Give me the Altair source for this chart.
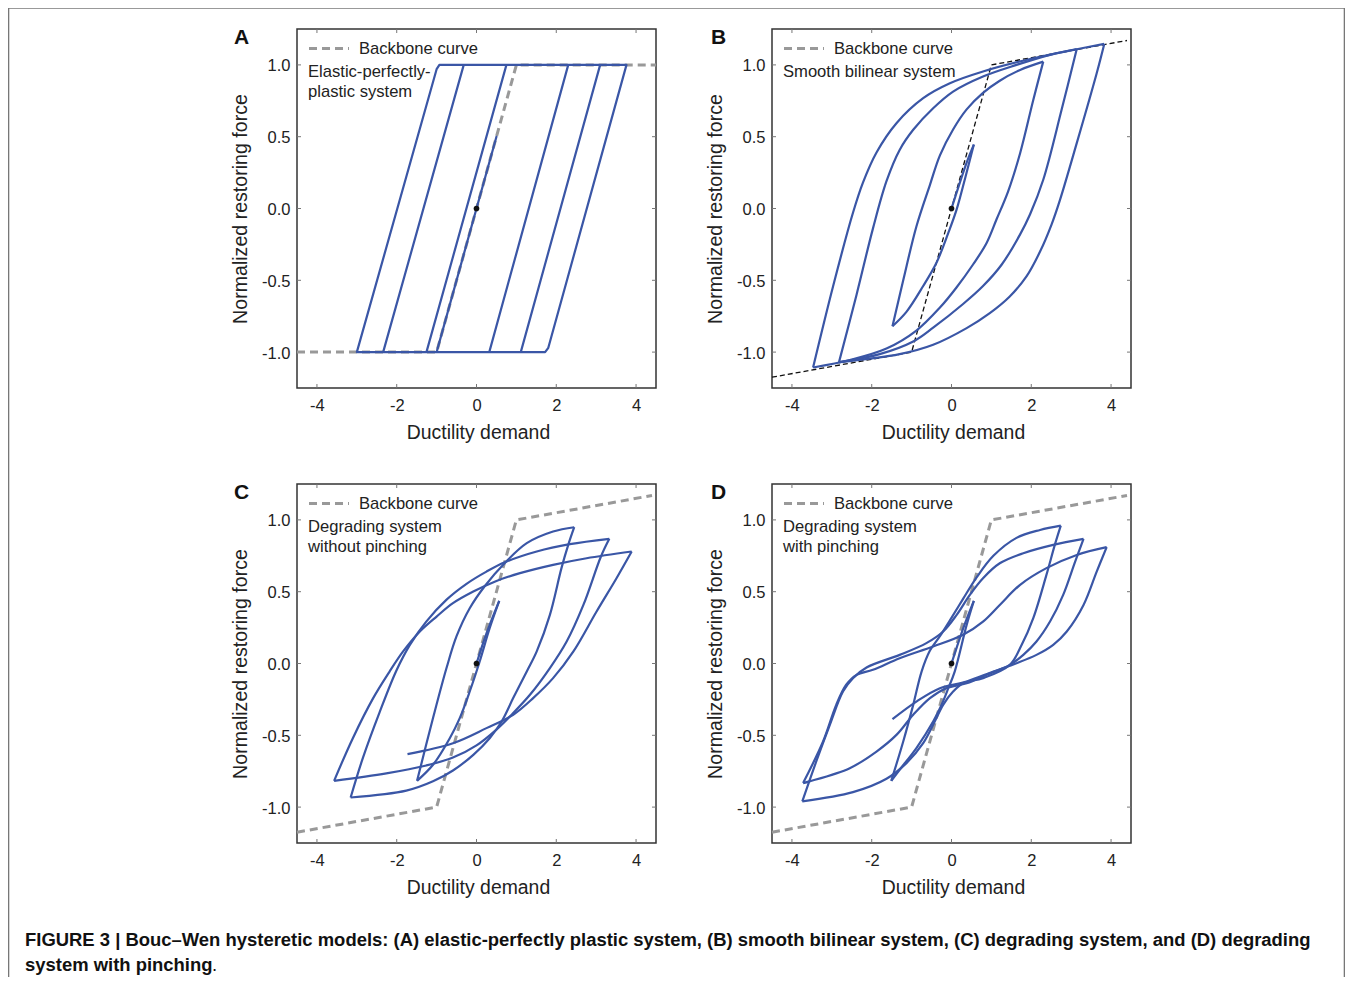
import altair as alt

FONT = "Liberation Sans"
BLUE = "#3a56a6"
GREY = "#999999"
INK = "#222222"

X_TICKS = [-4, -2, 0, 2, 4]
Y_TICKS = [-1.0, -0.5, 0.0, 0.5, 1.0]

A_BACKBONE_X = [-4.5, -1, 1, 4.5]
A_BACKBONE_Y = [-1, -1, 1, 1]
BILINEAR_X = [-4.5, -1, 1, 4.4]
BILINEAR_Y = [-1.175, -1, 1, 1.17]

# Panel A: elastic-perfectly plastic
A_X = [[0, 0.5, -1.0, -1.255, 0.75, 2.30, 0.32, -3.0, -1.0, -0.93, 3.76, 1.80, 1.72, -2.34, -0.32, 3.10, 1.11]]
A_Y = [[0, 0.5, -1.0, -1.0, 1.0, 1.0, -1.0, -1.0, 0.97, 1.0, 1.0, -0.97, -1.0, -1.0, 1.0, 1.0, -1.0]]

# Panel B: smooth bilinear
B_X = [
    [0, 0.38, 0.56],
    [0.56, 0.35, 0.125, -0.08, -0.38, -0.71, -1.13, -1.48],
    [-1.48, -1.21, -0.88, -0.54, -0.29, 0.04, 0.38, 0.79, 1.21, 1.72, 2.30],
    [2.30, 2.05, 1.72, 1.42, 1.13, 0.88, 0.54, 0.125, -0.29, -0.88, -1.63, -2.55, -3.47],
    [-3.47, -2.97, -2.47, -2.22, -1.88, -1.38, -0.71, -0.04, 0.79, 2.05, 3.14, 3.83],
    [3.83, 3.64, 3.14, 2.72, 2.51, 2.22, 1.88, 1.46, 0.96, 0.38, -0.46, -1.30, -2.82],
    [-2.82, -2.38, -1.97, -1.63, -1.30, -0.96, -0.46, 0.04, 0.79, 1.63, 2.47, 3.14],
    [3.14, 2.76, 2.30, 1.97, 1.72, 1.26, 0.79, 0.29, -0.46, -0.96, -1.80, -2.82],
]
B_Y = [
    [0, 0.32, 0.445],
    [0.445, 0.22, -0.01, -0.17, -0.38, -0.54, -0.72, -0.82],
    [-0.82, -0.50, -0.125, 0.165, 0.37, 0.55, 0.69, 0.805, 0.89, 0.965, 1.023],
    [1.023, 0.756, 0.385, 0.12, -0.075, -0.24, -0.39, -0.55, -0.69, -0.85, -0.975, -1.055, -1.107],
    [-1.107, -0.543, -0.03, 0.18, 0.39, 0.594, 0.768, 0.872, 0.954, 1.046, 1.109, 1.146],
    [1.146, 0.942, 0.455, 0.06, -0.11, -0.30, -0.473, -0.613, -0.729, -0.833, -0.949, -1.014, -1.07],
    [-1.07, -0.60, -0.14, 0.19, 0.408, 0.548, 0.698, 0.814, 0.919, 1.0, 1.07, 1.111],
    [1.111, 0.687, 0.20, -0.04, -0.18, -0.39, -0.54, -0.665, -0.83, -0.926, -1.014, -1.07],
]

# Panel C: degrading without pinching
C_X = [
    [0, 0.25, 0.57],
    [0.57, 0.33, 0.08, -0.17, -0.42, -0.67, -1.09, -1.49],
    [-1.49, -1.09, -0.75, -0.5, -0.17, 0.21, 0.71, 1.26, 1.92, 2.45],
    [2.45, 2.30, 2.13, 1.84, 1.51, 1.26, 0.92, 0.63, 0.33, -0.08, -0.59, -1.09, -1.76, -3.155],
    [-3.155, -2.85, -2.43, -2.01, -1.67, -1.26, -0.75, -0.25, 0.25, 0.71, 1.51, 2.34, 3.33],
    [3.33, 3.12, 2.68, 2.26, 1.84, 1.34, 0.92, 0.5, 0, -0.59, -1.26, -2.26, -3.57],
    [-3.57, -3.10, -2.59, -2.18, -1.84, -1.42, -1.0, -0.59, -0.08, 0.5, 1.09, 1.92, 2.76, 3.89],
    [3.89, 3.51, 3.01, 2.43, 1.92, 1.42, 0.92, 0.25, -0.59, -1.73],
]
C_Y = [
    [0, 0.21, 0.436],
    [0.436, 0.246, 0.014, -0.195, -0.38, -0.52, -0.705, -0.817],
    [-0.817, -0.38, -0.03, 0.19, 0.385, 0.54, 0.70, 0.838, 0.919, 0.949],
    [0.949, 0.826, 0.664, 0.339, 0.084, -0.056, -0.241, -0.404, -0.52, -0.636, -0.745, -0.82, -0.885, -0.933],
    [-0.933, -0.659, -0.34, -0.05, 0.13, 0.292, 0.445, 0.555, 0.64, 0.705, 0.78, 0.831, 0.868],
    [0.868, 0.745, 0.408, 0.153, -0.032, -0.218, -0.345, -0.46, -0.57, -0.655, -0.71, -0.765, -0.817],
    [-0.817, -0.52, -0.241, -0.056, 0.084, 0.223, 0.327, 0.42, 0.501, 0.575, 0.629, 0.687, 0.733, 0.78],
    [0.78, 0.594, 0.362, 0.084, -0.102, -0.241, -0.357, -0.45, -0.555, -0.631],
]

# Panel D: degrading with pinching
D_X = [
    [0, 0.3, 0.56],
    [0.56, 0.38, 0.08, -0.08, -0.25, -0.46, -0.88, -1.30, -1.51],
    [-1.51, -1.21, -0.96, -0.75, -0.54, -0.29, -0.04, 0.29, 0.63, 1.05, 1.63, 2.22, 2.74],
    [2.74, 2.59, 2.38, 2.05, 1.76, 1.46, 0.79, 0.29, 0.04, -0.21, -0.42, -0.71, -1.13, -1.63, -2.47, -3.74],
    [-3.74, -3.39, -3.05, -2.72, -2.47, -2.13, -1.30, -0.63, -0.21, 0.13, 0.46, 0.79, 1.21, 1.8, 2.55, 3.31],
    [3.31, 3.10, 2.80, 2.47, 2.13, 1.8, 1.46, 0.88, 0.38, -0.13, -0.54, -0.96, -1.38, -1.88, -2.55, -3.56, -3.72],
    [-3.72, -3.22, -2.89, -2.64, -2.38, -1.97, -1.30, -0.46, 0.29, 0.79, 1.21, 1.72, 2.38, 3.14, 3.89],
    [3.89, 3.64, 3.31, 2.89, 2.55, 2.13, 1.63, 1.05, 0.38, -0.29, -0.88, -1.48],
]
D_Y = [
    [0, 0.25, 0.436],
    [0.436, 0.269, -0.056, -0.172, -0.288, -0.404, -0.589, -0.74, -0.817],
    [-0.817, -0.543, -0.288, -0.056, 0.09, 0.19, 0.30, 0.45, 0.60, 0.75, 0.875, 0.93, 0.96],
    [0.96, 0.826, 0.617, 0.316, 0.13, -0.01, -0.102, -0.137, -0.195, -0.288, -0.404, -0.555, -0.694, -0.803, -0.896, -0.96],
    [-0.96, -0.682, -0.427, -0.195, -0.102, -0.028, 0.06, 0.142, 0.223, 0.339, 0.478, 0.594, 0.698, 0.768, 0.826, 0.868],
    [0.868, 0.71, 0.478, 0.292, 0.153, 0.06, -0.01, -0.079, -0.137, -0.172, -0.241, -0.357, -0.497, -0.613, -0.729, -0.821, -0.833],
    [-0.833, -0.543, -0.288, -0.148, -0.079, -0.044, 0.037, 0.118, 0.2, 0.292, 0.408, 0.548, 0.664, 0.756, 0.81],
    [0.81, 0.64, 0.408, 0.223, 0.13, 0.06, 0.002, -0.056, -0.125, -0.172, -0.265, -0.387],
]

CAPTION_1 = "FIGURE 3 | Bouc\u2013Wen hysteretic models: (A) elastic-perfectly plastic system, (B) smooth bilinear system, (C) degrading system, and (D) degrading"
CAPTION_2 = "system with pinching"

SIZE = 359
X_SCALE = alt.Scale(domain=[-4.5, 4.5], nice=False, zero=False)
Y_SCALE = alt.Scale(domain=[-1.25, 1.25], nice=False, zero=False)

X_AXIS = alt.Axis(
    values=X_TICKS, title="Ductility demand", grid=False, domain=False, ticks=False,
    labelFont=FONT, labelFontSize=16.5, labelColor=INK, labelPadding=9,
    labelExpr="datum.value<0 ? '-'+format(-datum.value,'d') : format(datum.value,'d')",
    titleFont=FONT, titleFontSize=19.4, titleFontWeight="normal", titleColor=INK, titlePadding=9.5, titleX=181)
Y_AXIS = alt.Axis(
    values=Y_TICKS, title="Normalized restoring force", grid=False, domain=False, ticks=False,
    labelFont=FONT, labelFontSize=16.5, labelColor=INK, labelPadding=7, labelOffset=1,
    labelExpr="datum.value<0 ? '-'+format(-datum.value,'.1f') : format(datum.value,'.1f')",
    titleFont=FONT, titleFontSize=19.6, titleFontWeight="normal", titleColor=INK, titlePadding=11.5)


def txt(text, x, y, size=16.6, weight="normal", color=INK, font=FONT):
    return alt.Chart(alt.Data(values=[{"t": text}])).mark_text(
        align="left", baseline="middle", fontSize=size, fontWeight=weight, color=color, font=font
    ).encode(text="t:N", x=alt.value(x), y=alt.value(y))


def ex():
    return alt.X("x:Q", scale=X_SCALE, axis=X_AXIS)


def ey():
    return alt.Y("y:Q", scale=Y_SCALE, axis=Y_AXIS)


def panel(letter, letter_x, lines, cx, cy, bx, by, b_color, b_width, b_dash, interp, extra=()):
    xt = alt.Data(values=[{"x": v} for v in X_TICKS])
    yt = alt.Data(values=[{"y": v} for v in Y_TICKS])
    tick = dict(color="#777777", strokeWidth=1)
    ticks = [
        alt.Chart(xt).mark_rule(**tick).encode(x=ex(), y=alt.value(SIZE), y2=alt.value(SIZE - 4)),
        alt.Chart(xt).mark_rule(**tick).encode(x=ex(), y=alt.value(0), y2=alt.value(4)),
        alt.Chart(yt).mark_rule(**tick).encode(y=ey(), x=alt.value(0), x2=alt.value(4)),
        alt.Chart(yt).mark_rule(**tick).encode(y=ey(), x=alt.value(SIZE), x2=alt.value(SIZE - 4)),
    ]
    bb = alt.Chart(alt.Data(values=[{"x": a, "y": b, "i": i} for i, (a, b) in enumerate(zip(bx, by))])).mark_line(
        color=b_color, strokeWidth=b_width, strokeDash=b_dash
    ).encode(x=ex(), y=ey(), order="i:Q")
    rows = []
    for s, (xs, ys) in enumerate(zip(cx, cy)):
        rows += [{"x": a, "y": b, "i": i, "s": s} for i, (a, b) in enumerate(zip(xs, ys))]
    curve = alt.Chart(alt.Data(values=rows)).mark_line(
        color=BLUE, strokeWidth=2.2, interpolate=interp, strokeJoin="round"
    ).encode(x=ex(), y=ey(), order="i:Q", detail="s:N")
    dot = alt.Chart(alt.Data(values=[{"x": 0, "y": 0}])).mark_circle(color="#111111", size=32, opacity=1).encode(
        x=ex(), y=ey()
    )
    legend_dash = alt.Chart(alt.Data(values=[{"a": 1}])).mark_rule(
        color=GREY, strokeWidth=3, strokeDash=[8, 5]
    ).encode(x=alt.value(12), x2=alt.value(52), y=alt.value(19.5))
    texts = [txt("Backbone curve", 62, 19.5), txt(letter, letter_x, 8.5, size=21, weight="bold", color="#111111")]
    for i, line in enumerate(lines):
        texts.append(txt(line, 11, 42.5 + 20 * i))
    return alt.layer(*ticks, bb, curve, dot, legend_dash, *texts, *extra).properties(width=SIZE, height=SIZE)


FRAME = "#777777"
FRAME_RIGHT = 1047.5
FRAME_BOTTOM = 948
frame = [
    alt.Chart(alt.Data(values=[{"a": 1}])).mark_rule(color=FRAME, strokeWidth=1.6).encode(
        x=alt.value(-288.5), y=alt.value(-21), y2=alt.value(FRAME_BOTTOM)),
    alt.Chart(alt.Data(values=[{"a": 1}])).mark_rule(color=FRAME, strokeWidth=1.6).encode(
        x=alt.value(FRAME_RIGHT), y=alt.value(-21), y2=alt.value(FRAME_BOTTOM)),
    alt.Chart(alt.Data(values=[{"a": 1}])).mark_rule(color=FRAME, strokeWidth=1.6).encode(
        x=alt.value(-288.5), x2=alt.value(FRAME_RIGHT), y=alt.value(-21)),
]
caption = [
    txt(CAPTION_1, -272, 455.5, size=18.45, weight="bold", color="#111111"),
    txt(CAPTION_2, -272, 480.5, size=18.45, weight="bold", color="#111111"),
    txt(".", -85, 480.5, size=18.45, color="#111111"),
]

pA = panel("A", -63, ["Elastic-perfectly-", "plastic system"], A_X, A_Y, A_BACKBONE_X, A_BACKBONE_Y,
           GREY, 3, [8, 5], "linear", extra=frame)
pB = panel("B", -61, ["Smooth bilinear system"], B_X, B_Y, BILINEAR_X, BILINEAR_Y,
           "#111111", 1.3, [5, 3], "catmull-rom")
pC = panel("C", -63, ["Degrading system", "without pinching"], C_X, C_Y, BILINEAR_X, BILINEAR_Y,
           GREY, 3, [8, 5], "catmull-rom", extra=caption)
pD = panel("D", -61, ["Degrading system", "with pinching"], D_X, D_Y, BILINEAR_X, BILINEAR_Y,
           GREY, 3, [8, 5], "catmull-rom")

chart = alt.concat(pA, pB, pC, pD, columns=2, spacing={"column": 116, "row": 96}, bounds="flush").configure_view(
    stroke="#333333", strokeWidth=1.5
).properties(padding={"left": -2, "top": -2, "right": -2, "bottom": -2}, background="white")

chart.save("out.html", embed_options={"renderer": "svg", "actions": False})
